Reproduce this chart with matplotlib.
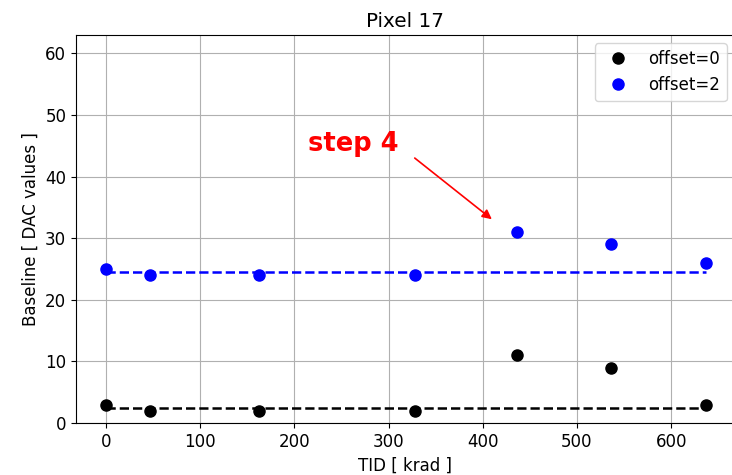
import matplotlib
matplotlib.use('Agg')
import matplotlib.pyplot as plt

# TID steps (krad) and measured baselines
tid = [0, 47, 163, 328, 436, 536, 637]
base_off0 = [3, 2, 2, 2, 11, 9, 3]
base_off2 = [25, 24, 24, 24, 31, 29, 26]
# reference (pre-irradiation) baseline levels
ref_off0 = 2.5
ref_off2 = 24.5

plt.rcParams['font.size'] = 12

fig = plt.figure(figsize=(7.32, 4.75), dpi=100)
ax = fig.add_axes([76/732, 1 - 423/475, 659/732, (423 - 35)/475])

ax.plot(tid, base_off0, 'o', color='black', ms=8, label='offset=0')
ax.plot(tid, base_off2, 'o', color='blue', ms=8, label='offset=2')
ax.plot([tid[0], tid[-1]], [ref_off0, ref_off0], '--', color='black', lw=1.8)
ax.plot([tid[0], tid[-1]], [ref_off2, ref_off2], '--', color='blue', lw=1.8)

ax.set_xlim(-31.8, 667.8)
ax.set_ylim(0, 63)
ax.spines['right'].set_visible(False)  # cropped off in the original
ax.grid(True)
ax.set_xlabel('TID [ krad ]')
ax.set_ylabel('Baseline [ DAC values ]')
ax.set_title('Pixel 17')
ax.legend(loc='upper right')

ax.annotate('', xy=(412, 32.8), xytext=(325.5, 43.3),
            arrowprops=dict(arrowstyle='-|>', color='red', lw=1.2, mutation_scale=14))
ax.text(214, 44.1, 'step 4', color='red', fontsize=18.5, fontweight='bold',
        family='DejaVu Sans', ha='left', va='baseline')

fig.savefig('out.png')
